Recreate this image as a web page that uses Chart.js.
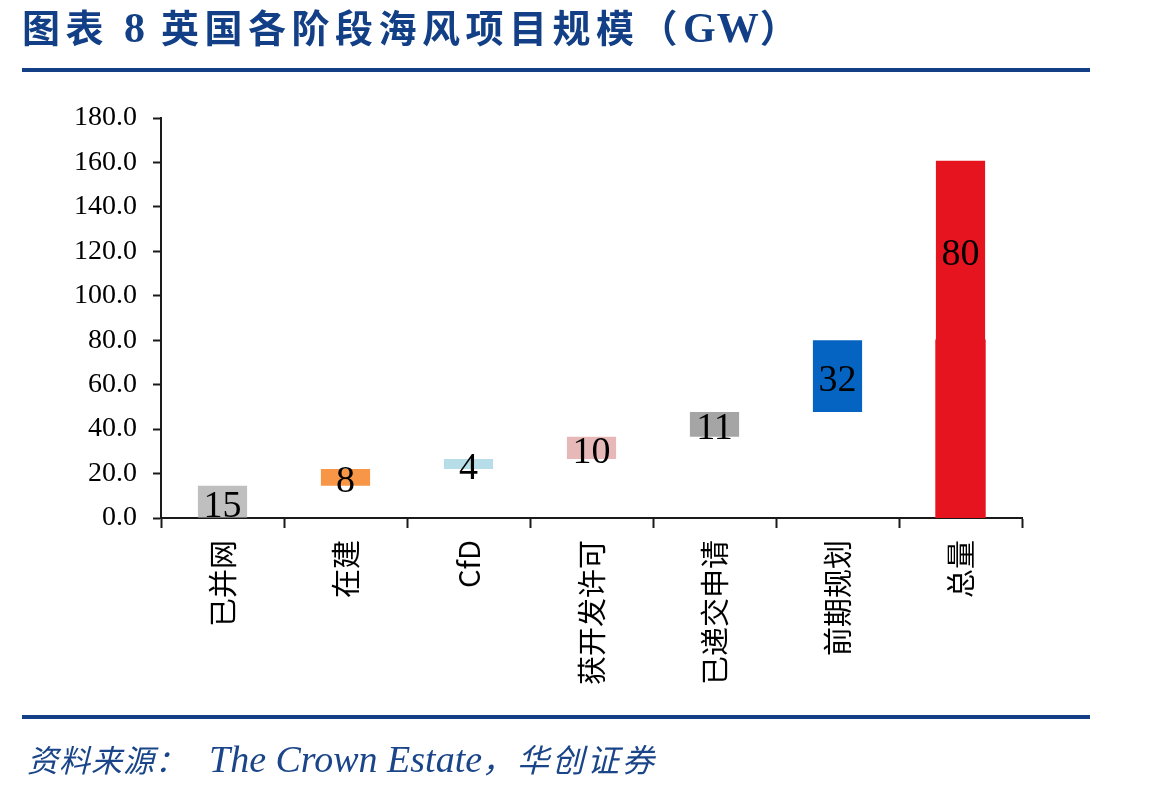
<!DOCTYPE html>
<html>
<head>
<meta charset="utf-8">
<script src="https://cdn.jsdelivr.net/npm/chart.js@4.4.1/dist/chart.umd.min.js"></script>
<style>
  html, body { margin: 0; padding: 0; background: #fff; }
  body { width: 1149px; height: 794px; position: relative; overflow: hidden; }
  #c { position: absolute; left: 0; top: 0; }
  .title { position: absolute; left: 22px; top: 5px; font-family: "Liberation Serif", "Noto Sans CJK SC", serif; font-weight: 700; font-size: 38px; line-height: 46px; letter-spacing: 5.5px; color: #123f85; white-space: nowrap; }
  .title .lat { font-size: 42px; letter-spacing: 1px; }
  .rule { position: absolute; left: 22px; width: 1068px; height: 4px; background: #123f85; }
  .source { position: absolute; left: 27px; top: 736px; font-family: "Liberation Serif", "Noto Sans CJK SC", serif; font-style: italic; font-size: 31px; line-height: 46px; color: #1a4589; white-space: nowrap; }
  .source .cjk { letter-spacing: 1px; }
  .source .cjk2 { font-size: 32px; letter-spacing: 3px; }
  .source .lat { font-size: 38px; margin-left: 22px; }
</style>
</head>
<body>
<canvas id="c" width="1149" height="794"></canvas>
<div class="title">图表 <span class="lat">8</span> 英国各阶段海风项目规模（<span class="lat">GW</span>）</div>
<div class="rule" style="top:68px"></div>
<div class="rule" style="top:715px"></div>
<div class="source"><span class="cjk">资料来源：</span><span class="lat">The Crown Estate</span><span class="cjk2">，华创证券</span></div>
<script>
// ---- data ----
const categories = ['已并网', '在建', 'CfD', '获开发许可', '已递交申请', '前期规划', '总量'];
const barStart = [0, 14.5, 22.1, 26.6, 36.6, 47.7, 80];
const barEnd = [14.5, 22.1, 26.6, 36.6, 47.7, 80, 160.8];
const totalBaseStart = [null, null, null, null, null, null, 0];
const totalBaseEnd = [null, null, null, null, null, null, 80];
const valueLabels = ['15', '8', '4', '10', '11', '32', '80'];
const yTicks = [0, 20, 40, 60, 80, 100, 120, 140, 160, 180];

// ---- styles ----
const barColors = ['#BFBFBF', '#F79646', '#B7DEE8', '#E6B9B8', '#A5A5A5', '#0563C1', '#E5141E'];
const totalBaseColor = '#E5141E';

const stepData = categories.map((c, i) => [barStart[i], barEnd[i]]);
const baseData = categories.map((c, i) => totalBaseStart[i] === null ? null : [totalBaseStart[i], totalBaseEnd[i]]);

const labelPlugin = {
  id: 'barLabels',
  afterDatasetsDraw(chart) {
    const meta = chart.getDatasetMeta(1);
    const ctx = chart.ctx;
    ctx.save();
    ctx.font = '38px "Liberation Serif", serif';
    ctx.fillStyle = '#000';
    ctx.textAlign = 'center';
    ctx.textBaseline = 'middle';
    meta.data.forEach((el, i) => {
      const cy = (el.y + el.base) / 2;
      ctx.fillText(valueLabels[i], el.x, cy + 5);
    });
    ctx.restore();
  }
};

new Chart(document.getElementById('c'), {
  type: 'bar',
  data: {
    labels: categories,
    datasets: [
      { label: 'base', data: baseData, backgroundColor: totalBaseColor, borderWidth: 0, inflateAmount: 0.6, grouped: false },
      { label: 'value', data: stepData, backgroundColor: barColors, grouped: false, borderWidth: 0 }
    ]
  },
  options: {
    responsive: false,
    animation: false,
    devicePixelRatio: 1,
    layout: { padding: { left: 0, right: 127, top: 118, bottom: 0 } },
    datasets: { bar: { categoryPercentage: 1, barPercentage: 0.4 } },
    plugins: { legend: { display: false }, tooltip: { enabled: false }, title: { display: false } },
    scales: {
      x: {
        type: 'category',
        offset: true,
        grid: { display: true, drawOnChartArea: false, drawTicks: true, tickLength: 10, tickWidth: 2, tickColor: '#1a1a1a', offset: true },
        border: { display: true, color: '#1a1a1a', width: 2 },
        ticks: {
          color: '#000',
          font: { family: '"Noto Sans CJK SC", sans-serif', size: 29 },
          minRotation: 90, maxRotation: 90, padding: 12, autoSkip: false
        },
        afterFit(scale) { scale.height = 794 - 518; }
      },
      y: {
        min: 0, max: 180,
        afterBuildTicks(scale) { scale.ticks = yTicks.map(v => ({ value: v })); },
        grid: { display: true, drawOnChartArea: false, drawTicks: true, tickLength: 8, tickWidth: 2, tickColor: '#1a1a1a' },
        border: { display: true, color: '#1a1a1a', width: 2 },
        ticks: {
          color: '#000',
          font: { family: '"Liberation Serif", serif', size: 28 },
          padding: 16,
          callback: (v) => Number(v).toFixed(1)
        },
        afterFit(scale) { scale.width = 161; }
      }
    }
  },
  plugins: [labelPlugin]
});
</script>
</body>
</html>
